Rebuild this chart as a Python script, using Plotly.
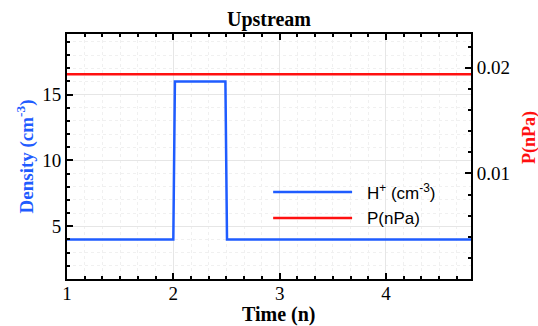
import plotly.graph_objects as go

# ---- data ----
time_h = [1.0, 2.0, 2.015, 2.49, 2.505, 4.8]
density_h = [4, 4, 16, 16, 4, 4]
time_p = [1.0, 4.8]
pressure = [0.0194, 0.0194]

x_ticks = [1, 2, 3, 4]
y_ticks = [5, 10, 15]
y2_ticks = [0.01, 0.02]
y2_labels = ["0.01", "0.02"]

BLUE = "#1f5cff"
RED = "#ff1010"
SERIF = "Liberation Serif"
SANS = "Liberation Sans"

fig = go.Figure()
fig.add_trace(go.Scatter(x=time_h, y=density_h, mode="lines",
                         line=dict(color=BLUE, width=2.5), showlegend=False))
fig.add_trace(go.Scatter(x=time_p, y=pressure, mode="lines", yaxis="y2",
                         line=dict(color=RED, width=2.5), showlegend=False))

W, H = 538, 326
L, R, T, B = 66.7, 67, 34, 47
pw, ph = W - L - R, H - T - B

def px(x):
    return (x - L) / pw

def py(y):
    return (H - B - y) / ph

# custom legend (long line samples like the reference)
legend_items = [("H<sup>+</sup> (cm<sup>-3</sup>)", BLUE, 192), ("P(nPa)", RED, 218)]
shapes = []
annotations = []
for label, col, yy in legend_items:
    shapes.append(dict(type="line", xref="paper", yref="paper",
                       x0=px(273), x1=px(352), y0=py(yy), y1=py(yy),
                       line=dict(color=col, width=2.5)))
    annotations.append(dict(text=label, xref="paper", yref="paper",
                            x=px(365), y=py(yy), xanchor="left", yanchor="middle",
                            showarrow=False, font=dict(family=SANS, size=17, color="black")))

annotations.append(dict(text="<b>P(nPa)</b>", xref="paper", yref="paper",
                        x=px(529), y=py(137), xanchor="center", yanchor="middle",
                        textangle=-90, showarrow=False,
                        font=dict(family=SERIF, size=18, color=RED)))
annotations.append(dict(text="<b>Time (n)</b>", xref="paper", yref="paper",
                        x=px(279), y=py(314), xanchor="center", yanchor="middle",
                        showarrow=False,
                        font=dict(family=SERIF, size=20, color="black")))

def common():
    return dict(showline=True, linecolor="black", linewidth=2,
                ticks="inside", ticklen=6, tickwidth=2, tickcolor="black",
                tickfont=dict(family=SERIF, size=19, color="black"),
                zeroline=False, automargin=False)

fig.update_layout(
    width=W, height=H,
    margin=dict(l=L, r=R, t=T, b=B, autoexpand=False),
    font=dict(family=SERIF, size=18, color="black"),
    plot_bgcolor="white", paper_bgcolor="white",
    title=dict(text="<b>Upstream</b>", x=0.5, xanchor="center", y=1 - 19 / H, yanchor="middle",
               font=dict(family=SERIF, size=20, color="black")),
    xaxis=dict(range=[1, 4.8], tickvals=x_ticks, mirror="ticks", ticklabelstandoff=-4,
               showgrid=True, gridcolor="#e6e6e6", gridwidth=1,
               minor=dict(dtick=1 / 6, tick0=1, ticks="inside", ticklen=3, tickcolor="black",
                          showgrid=True, gridcolor="#f0f0f0", griddash="dot"),
               **common()),
    yaxis=dict(range=[1, 19.6], tickvals=y_ticks,
               showgrid=True, gridcolor="#e6e6e6", gridwidth=1,
               minor=dict(dtick=1, tick0=0, ticks="inside", ticklen=3, tickcolor="black",
                          showgrid=True, gridcolor="#f0f0f0", griddash="dot"),
               title=dict(text="<b>Density (cm<sup>-3</sup>)</b>", standoff=4,
                          font=dict(family=SERIF, size=19, color=BLUE)),
               **common()),
    yaxis2=dict(range=[0, 0.0232], tickvals=y2_ticks, ticktext=y2_labels,
                overlaying="y", side="right", showgrid=False,
                minor=dict(dtick=0.002, tick0=0, ticks="inside", ticklen=3, tickcolor="black"),
                **common()),
    shapes=shapes,
    annotations=annotations,
)

fig.write_html("out.html")
